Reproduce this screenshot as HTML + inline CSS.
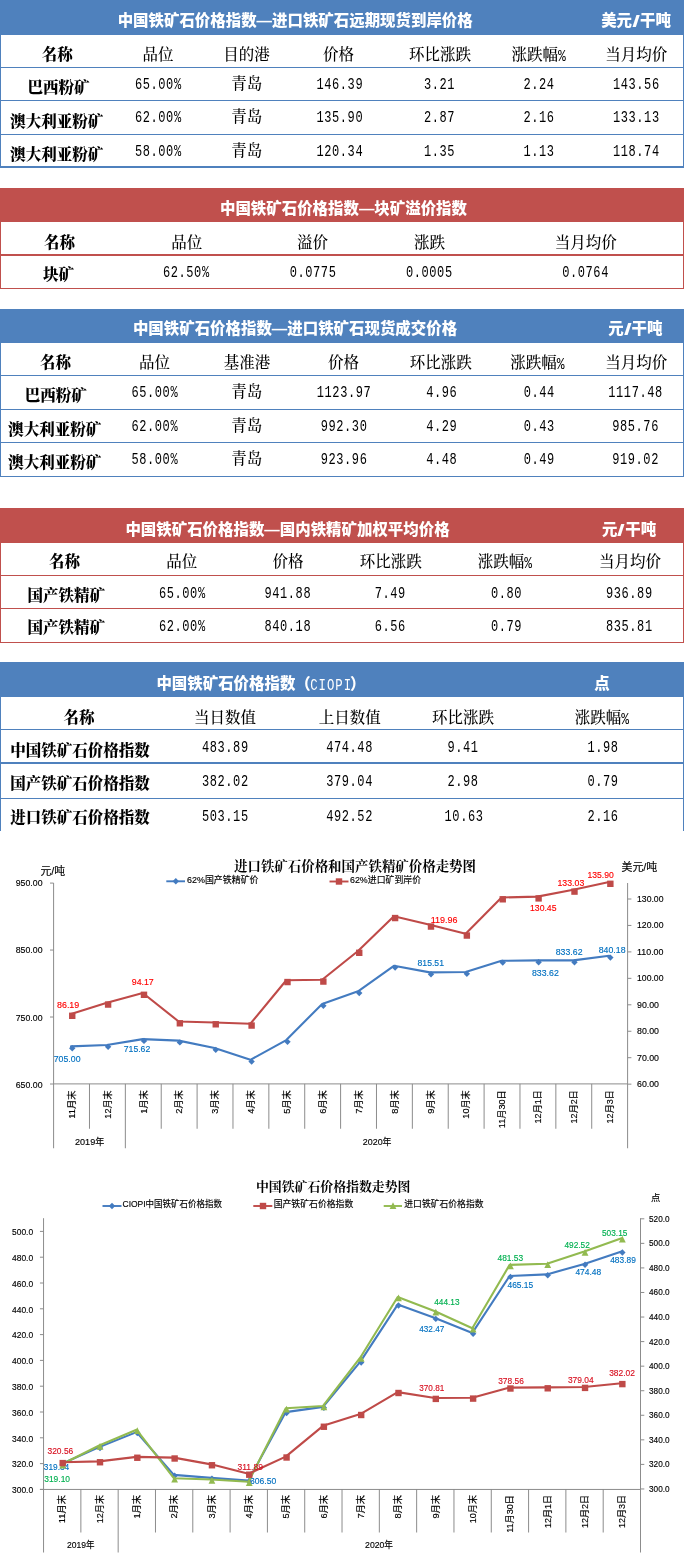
<!DOCTYPE html>
<html lang="zh-CN"><head><meta charset="utf-8"><title>中国铁矿石价格指数</title>
<style>
html,body{margin:0;padding:0;background:#fff}
body{width:684px;height:1564px;position:relative;overflow:hidden;font-family:"Liberation Serif","Noto Serif CJK SC",serif;color:#000}
.b{position:absolute;left:0;width:684px}
.l{position:absolute;left:0;width:684px}
.v{position:absolute}
.t{position:absolute;white-space:nowrap;line-height:20px;font-size:15.5px;transform:translateX(-50%)}
.h{font-family:"Liberation Sans","Noto Sans CJK SC",sans-serif;font-weight:900;color:#fff;font-size:15.45px;margin-top:-0.8px}
.h i{display:inline-block;font-style:normal;padding:0 1.8px;transform:scale(1.8,1.1)}
.k{font-family:"Liberation Serif","Noto Serif CJK SC",serif;font-weight:500}
.n{font-family:"Liberation Serif","Noto Serif CJK SC",serif;font-weight:900}
.d{font-family:"Liberation Mono",monospace;font-size:12px;letter-spacing:0.6px;padding-left:0.6px;transform:translateX(-50%) scaleY(1.37)}
.k b{font-family:"Liberation Mono",monospace;font-size:13px;font-weight:normal;display:inline-block;transform:scaleY(1.3) translateY(-0.3px)}
.hd{font-family:"Liberation Mono",monospace;font-size:12.3px;font-weight:normal;display:inline-block;transform:scaleY(1.3);letter-spacing:1px;margin:0 -2.2px 0 -0.6px}
svg{position:absolute;left:0;top:0}
svg text{font-family:"Liberation Sans","Noto Sans CJK SC",sans-serif}
</style></head><body>

<div class="b" style="top:0px;height:35.00px;background:#4f81bd"></div>
<div class="v" style="left:0.00px;top:35.00px;width:1px;height:133.00px;background:#4f81bd"></div>
<div class="v" style="left:683.00px;top:35.00px;width:1px;height:133.00px;background:#4f81bd"></div>
<div class="l" style="top:67px;height:1px;background:#4f81bd"></div>
<div class="l" style="top:100px;height:1px;background:#4f81bd"></div>
<div class="l" style="top:134px;height:1px;background:#4f81bd"></div>
<div class="l" style="top:166px;height:2px;background:#4f81bd"></div>
<span class="t h" style="left:295.20px;top:11.80px">中国铁矿石价格指数—进口铁矿石远期现货到岸价格</span>
<span class="t h" style="left:636.00px;top:11.80px">美元<i>/</i>干吨</span>
<span class="t n" style="left:57.25px;top:44.70px">名称</span>
<span class="t k" style="left:158.00px;top:44.70px">品位</span>
<span class="t k" style="left:246.50px;top:44.70px">目的港</span>
<span class="t k" style="left:338.50px;top:44.70px">价格</span>
<span class="t k" style="left:440.00px;top:44.70px">环比涨跌</span>
<span class="t k" style="left:538.75px;top:44.70px">涨跌幅<b>%</b></span>
<span class="t k" style="left:636.25px;top:44.70px">当月均价</span>
<span class="t n" style="left:58.40px;top:78.25px">巴西粉矿</span>
<span class="t d" style="left:158.00px;top:75.05px">65.00%</span>
<span class="t k" style="left:246.75px;top:74.05px">青岛</span>
<span class="t d" style="left:339.50px;top:75.05px">146.39</span>
<span class="t d" style="left:439.25px;top:75.05px">3.21</span>
<span class="t d" style="left:538.75px;top:75.05px">2.24</span>
<span class="t d" style="left:636.00px;top:75.05px">143.56</span>
<span class="t n" style="left:56.70px;top:111.65px">澳大利亚粉矿</span>
<span class="t d" style="left:158.00px;top:108.40px">62.00%</span>
<span class="t k" style="left:246.75px;top:107.40px">青岛</span>
<span class="t d" style="left:339.50px;top:108.40px">135.90</span>
<span class="t d" style="left:439.25px;top:108.40px">2.87</span>
<span class="t d" style="left:538.75px;top:108.40px">2.16</span>
<span class="t d" style="left:636.00px;top:108.40px">133.13</span>
<span class="t n" style="left:56.70px;top:144.60px">澳大利亚粉矿</span>
<span class="t d" style="left:158.00px;top:142.25px">58.00%</span>
<span class="t k" style="left:246.75px;top:141.25px">青岛</span>
<span class="t d" style="left:339.50px;top:142.25px">120.34</span>
<span class="t d" style="left:439.25px;top:142.25px">1.35</span>
<span class="t d" style="left:538.75px;top:142.25px">1.13</span>
<span class="t d" style="left:636.00px;top:142.25px">118.74</span>
<div class="b" style="top:188px;height:34.00px;background:#c0504d"></div>
<div class="v" style="left:0.00px;top:222.00px;width:1px;height:67.00px;background:#c0504d"></div>
<div class="v" style="left:683.00px;top:222.00px;width:1px;height:67.00px;background:#c0504d"></div>
<div class="l" style="top:254px;height:2px;background:#c0504d"></div>
<div class="l" style="top:288px;height:1px;background:#c0504d"></div>
<span class="t h" style="left:343.50px;top:199.55px">中国铁矿石价格指数—块矿溢价指数</span>
<span class="t n" style="left:59.50px;top:233.00px">名称</span>
<span class="t k" style="left:186.75px;top:233.00px">品位</span>
<span class="t k" style="left:312.50px;top:233.00px">溢价</span>
<span class="t k" style="left:429.50px;top:233.00px">涨跌</span>
<span class="t k" style="left:585.75px;top:233.00px">当月均价</span>
<span class="t n" style="left:58.50px;top:264.60px">块矿</span>
<span class="t d" style="left:186.00px;top:263.40px">62.50%</span>
<span class="t d" style="left:312.75px;top:263.40px">0.0775</span>
<span class="t d" style="left:429.00px;top:263.40px">0.0005</span>
<span class="t d" style="left:585.25px;top:263.40px">0.0764</span>
<div class="b" style="top:309px;height:34.00px;background:#4f81bd"></div>
<div class="v" style="left:0.00px;top:343.00px;width:1px;height:134.00px;background:#4f81bd"></div>
<div class="v" style="left:683.00px;top:343.00px;width:1px;height:134.00px;background:#4f81bd"></div>
<div class="l" style="top:375px;height:1px;background:#4f81bd"></div>
<div class="l" style="top:409px;height:1px;background:#4f81bd"></div>
<div class="l" style="top:442px;height:1px;background:#4f81bd"></div>
<div class="l" style="top:476px;height:1px;background:#4f81bd"></div>
<span class="t h" style="left:295.00px;top:319.30px">中国铁矿石价格指数—进口铁矿石现货成交价格</span>
<span class="t h" style="left:635.25px;top:319.30px">元<i>/</i>干吨</span>
<span class="t n" style="left:55.50px;top:353.40px">名称</span>
<span class="t k" style="left:154.50px;top:353.40px">品位</span>
<span class="t k" style="left:247.00px;top:353.40px">基准港</span>
<span class="t k" style="left:343.50px;top:353.40px">价格</span>
<span class="t k" style="left:440.75px;top:353.40px">环比涨跌</span>
<span class="t k" style="left:537.50px;top:353.40px">涨跌幅<b>%</b></span>
<span class="t k" style="left:636.25px;top:353.40px">当月均价</span>
<span class="t n" style="left:55.85px;top:386.00px">巴西粉矿</span>
<span class="t d" style="left:154.50px;top:383.00px">65.00%</span>
<span class="t k" style="left:246.75px;top:382.00px">青岛</span>
<span class="t d" style="left:343.75px;top:383.00px">1123.97</span>
<span class="t d" style="left:441.50px;top:383.00px">4.96</span>
<span class="t d" style="left:539.00px;top:383.00px">0.44</span>
<span class="t d" style="left:635.25px;top:383.00px">1117.48</span>
<span class="t n" style="left:54.85px;top:419.80px">澳大利亚粉矿</span>
<span class="t d" style="left:154.50px;top:417.25px">62.00%</span>
<span class="t k" style="left:246.75px;top:416.25px">青岛</span>
<span class="t d" style="left:343.75px;top:417.25px">992.30</span>
<span class="t d" style="left:441.50px;top:417.25px">4.29</span>
<span class="t d" style="left:539.00px;top:417.25px">0.43</span>
<span class="t d" style="left:635.25px;top:417.25px">985.76</span>
<span class="t n" style="left:54.85px;top:452.65px">澳大利亚粉矿</span>
<span class="t d" style="left:154.50px;top:450.30px">58.00%</span>
<span class="t k" style="left:246.75px;top:449.30px">青岛</span>
<span class="t d" style="left:343.75px;top:450.30px">923.96</span>
<span class="t d" style="left:441.50px;top:450.30px">4.48</span>
<span class="t d" style="left:539.00px;top:450.30px">0.49</span>
<span class="t d" style="left:635.25px;top:450.30px">919.02</span>
<div class="b" style="top:508px;height:35.00px;background:#c0504d"></div>
<div class="v" style="left:0.00px;top:543.00px;width:1px;height:100.00px;background:#c0504d"></div>
<div class="v" style="left:683.00px;top:543.00px;width:1px;height:100.00px;background:#c0504d"></div>
<div class="l" style="top:575px;height:1px;background:#c0504d"></div>
<div class="l" style="top:608px;height:1px;background:#c0504d"></div>
<div class="l" style="top:642px;height:1px;background:#c0504d"></div>
<span class="t h" style="left:287.50px;top:520.80px">中国铁矿石价格指数—国内铁精矿加权平均价格</span>
<span class="t h" style="left:629.00px;top:520.80px">元<i>/</i>干吨</span>
<span class="t n" style="left:64.50px;top:552.30px">名称</span>
<span class="t k" style="left:181.75px;top:552.30px">品位</span>
<span class="t k" style="left:288.00px;top:552.30px">价格</span>
<span class="t k" style="left:390.75px;top:552.30px">环比涨跌</span>
<span class="t k" style="left:505.00px;top:552.30px">涨跌幅<b>%</b></span>
<span class="t k" style="left:630.00px;top:552.30px">当月均价</span>
<span class="t n" style="left:66.25px;top:585.80px">国产铁精矿</span>
<span class="t d" style="left:182.00px;top:584.05px">65.00%</span>
<span class="t d" style="left:287.50px;top:584.05px">941.88</span>
<span class="t d" style="left:390.00px;top:584.05px">7.49</span>
<span class="t d" style="left:506.25px;top:584.05px">0.80</span>
<span class="t d" style="left:629.00px;top:584.05px">936.89</span>
<span class="t n" style="left:66.25px;top:618.40px">国产铁精矿</span>
<span class="t d" style="left:182.00px;top:617.10px">62.00%</span>
<span class="t d" style="left:287.50px;top:617.10px">840.18</span>
<span class="t d" style="left:390.00px;top:617.10px">6.56</span>
<span class="t d" style="left:506.25px;top:617.10px">0.79</span>
<span class="t d" style="left:629.00px;top:617.10px">835.81</span>
<div class="b" style="top:662px;height:35.00px;background:#4f81bd"></div>
<div class="v" style="left:0.00px;top:697.00px;width:1px;height:134.00px;background:#4f81bd"></div>
<div class="v" style="left:683.00px;top:697.00px;width:1px;height:134.00px;background:#4f81bd"></div>
<div class="l" style="top:729px;height:1px;background:#4f81bd"></div>
<div class="l" style="top:762px;height:2px;background:#4f81bd"></div>
<div class="l" style="top:798px;height:1px;background:#4f81bd"></div>
<span class="t h" style="left:260.90px;top:674.30px">中国铁矿石价格指数（<span class="hd">CIOPI</span>）</span>
<span class="t h" style="left:602.00px;top:674.30px">点</span>
<span class="t n" style="left:79.00px;top:707.80px">名称</span>
<span class="t k" style="left:225.00px;top:707.80px">当日数值</span>
<span class="t k" style="left:349.75px;top:707.80px">上日数值</span>
<span class="t k" style="left:463.00px;top:707.80px">环比涨跌</span>
<span class="t k" style="left:602.00px;top:707.80px">涨跌幅<b>%</b></span>
<span class="t n" style="left:80.00px;top:740.80px">中国铁矿石价格指数</span>
<span class="t d" style="left:225.00px;top:738.05px">483.89</span>
<span class="t d" style="left:349.25px;top:738.05px">474.48</span>
<span class="t d" style="left:462.75px;top:738.05px">9.41</span>
<span class="t d" style="left:602.75px;top:738.05px">1.98</span>
<span class="t n" style="left:80.00px;top:774.30px">国产铁矿石价格指数</span>
<span class="t d" style="left:225.00px;top:772.00px">382.02</span>
<span class="t d" style="left:349.25px;top:772.00px">379.04</span>
<span class="t d" style="left:462.75px;top:772.00px">2.98</span>
<span class="t d" style="left:602.75px;top:772.00px">0.79</span>
<span class="t n" style="left:80.00px;top:807.80px">进口铁矿石价格指数</span>
<span class="t d" style="left:225.00px;top:806.80px">503.15</span>
<span class="t d" style="left:349.25px;top:806.80px">492.52</span>
<span class="t d" style="left:463.75px;top:806.80px">10.63</span>
<span class="t d" style="left:602.75px;top:806.80px">2.16</span>
<svg width="684" height="1564" viewBox="0 0 684 1564">
<rect x="0" y="831" width="684" height="733" fill="#fff"/>
<line x1="53.60" y1="883.00" x2="53.60" y2="1148.25" stroke="#8c8c8c" stroke-width="1.0"/>
<line x1="53.60" y1="1083.90" x2="627.60" y2="1083.90" stroke="#8c8c8c" stroke-width="1.0"/>
<line x1="627.60" y1="883.00" x2="627.60" y2="1148.25" stroke="#8c8c8c" stroke-width="1.0"/>
<line x1="50.00" y1="883.09" x2="53.60" y2="883.09" stroke="#8c8c8c" stroke-width="1.0"/>
<line x1="50.00" y1="950.06" x2="53.60" y2="950.06" stroke="#8c8c8c" stroke-width="1.0"/>
<line x1="50.00" y1="1017.03" x2="53.60" y2="1017.03" stroke="#8c8c8c" stroke-width="1.0"/>
<line x1="50.00" y1="1084.00" x2="53.60" y2="1084.00" stroke="#8c8c8c" stroke-width="1.0"/>
<line x1="627.60" y1="899.00" x2="631.40" y2="899.00" stroke="#8c8c8c" stroke-width="1.0"/>
<line x1="627.60" y1="925.45" x2="631.40" y2="925.45" stroke="#8c8c8c" stroke-width="1.0"/>
<line x1="627.60" y1="951.90" x2="631.40" y2="951.90" stroke="#8c8c8c" stroke-width="1.0"/>
<line x1="627.60" y1="978.35" x2="631.40" y2="978.35" stroke="#8c8c8c" stroke-width="1.0"/>
<line x1="627.60" y1="1004.80" x2="631.40" y2="1004.80" stroke="#8c8c8c" stroke-width="1.0"/>
<line x1="627.60" y1="1031.25" x2="631.40" y2="1031.25" stroke="#8c8c8c" stroke-width="1.0"/>
<line x1="627.60" y1="1057.70" x2="631.40" y2="1057.70" stroke="#8c8c8c" stroke-width="1.0"/>
<line x1="627.60" y1="1084.15" x2="631.40" y2="1084.15" stroke="#8c8c8c" stroke-width="1.0"/>
<line x1="89.47" y1="1083.90" x2="89.47" y2="1128.75" stroke="#8c8c8c" stroke-width="1.0"/>
<line x1="125.35" y1="1083.90" x2="125.35" y2="1148.25" stroke="#8c8c8c" stroke-width="1.0"/>
<line x1="161.22" y1="1083.90" x2="161.22" y2="1128.75" stroke="#8c8c8c" stroke-width="1.0"/>
<line x1="197.10" y1="1083.90" x2="197.10" y2="1128.75" stroke="#8c8c8c" stroke-width="1.0"/>
<line x1="232.97" y1="1083.90" x2="232.97" y2="1128.75" stroke="#8c8c8c" stroke-width="1.0"/>
<line x1="268.85" y1="1083.90" x2="268.85" y2="1128.75" stroke="#8c8c8c" stroke-width="1.0"/>
<line x1="304.73" y1="1083.90" x2="304.73" y2="1128.75" stroke="#8c8c8c" stroke-width="1.0"/>
<line x1="340.60" y1="1083.90" x2="340.60" y2="1128.75" stroke="#8c8c8c" stroke-width="1.0"/>
<line x1="376.48" y1="1083.90" x2="376.48" y2="1128.75" stroke="#8c8c8c" stroke-width="1.0"/>
<line x1="412.35" y1="1083.90" x2="412.35" y2="1128.75" stroke="#8c8c8c" stroke-width="1.0"/>
<line x1="448.23" y1="1083.90" x2="448.23" y2="1128.75" stroke="#8c8c8c" stroke-width="1.0"/>
<line x1="484.10" y1="1083.90" x2="484.10" y2="1128.75" stroke="#8c8c8c" stroke-width="1.0"/>
<line x1="519.98" y1="1083.90" x2="519.98" y2="1128.75" stroke="#8c8c8c" stroke-width="1.0"/>
<line x1="555.85" y1="1083.90" x2="555.85" y2="1128.75" stroke="#8c8c8c" stroke-width="1.0"/>
<line x1="591.73" y1="1083.90" x2="591.73" y2="1128.75" stroke="#8c8c8c" stroke-width="1.0"/>
<polyline points="71.04,1046.40 106.91,1045.05 142.79,1039.10 178.66,1040.60 214.54,1048.05 250.41,1059.80 286.29,1040.05 322.16,1003.90 358.04,991.30 393.91,965.80 429.79,972.40 465.66,972.05 501.54,960.80 537.41,960.40 573.29,960.40 609.16,955.80" fill="none" stroke="#437bc0" stroke-width="2.1" stroke-linejoin="round" stroke-linecap="round"/>
<path d="M72.24 1045.00L75.44 1048.20L72.24 1051.40L69.04 1048.20Z" fill="#437bc0"/>
<path d="M108.11 1043.65L111.31 1046.85L108.11 1050.05L104.91 1046.85Z" fill="#437bc0"/>
<path d="M143.99 1037.70L147.19 1040.90L143.99 1044.10L140.79 1040.90Z" fill="#437bc0"/>
<path d="M179.86 1039.20L183.06 1042.40L179.86 1045.60L176.66 1042.40Z" fill="#437bc0"/>
<path d="M215.74 1046.65L218.94 1049.85L215.74 1053.05L212.54 1049.85Z" fill="#437bc0"/>
<path d="M251.61 1058.40L254.81 1061.60L251.61 1064.80L248.41 1061.60Z" fill="#437bc0"/>
<path d="M287.49 1038.65L290.69 1041.85L287.49 1045.05L284.29 1041.85Z" fill="#437bc0"/>
<path d="M323.36 1002.50L326.56 1005.70L323.36 1008.90L320.16 1005.70Z" fill="#437bc0"/>
<path d="M359.24 989.90L362.44 993.10L359.24 996.30L356.04 993.10Z" fill="#437bc0"/>
<path d="M395.11 964.40L398.31 967.60L395.11 970.80L391.91 967.60Z" fill="#437bc0"/>
<path d="M430.99 971.00L434.19 974.20L430.99 977.40L427.79 974.20Z" fill="#437bc0"/>
<path d="M466.86 970.65L470.06 973.85L466.86 977.05L463.66 973.85Z" fill="#437bc0"/>
<path d="M502.74 959.40L505.94 962.60L502.74 965.80L499.54 962.60Z" fill="#437bc0"/>
<path d="M538.61 959.00L541.81 962.20L538.61 965.40L535.41 962.20Z" fill="#437bc0"/>
<path d="M574.49 959.00L577.69 962.20L574.49 965.40L571.29 962.20Z" fill="#437bc0"/>
<path d="M610.36 954.40L613.56 957.60L610.36 960.80L607.16 957.60Z" fill="#437bc0"/>
<polyline points="71.04,1014.00 106.91,1002.75 142.79,993.00 178.66,1021.50 214.54,1022.50 250.41,1023.75 286.29,980.25 322.16,979.75 358.04,951.00 393.91,916.25 429.79,924.75 465.66,933.75 501.54,897.50 537.41,896.60 573.29,889.80 609.16,882.00" fill="none" stroke="#bf4a48" stroke-width="2.1" stroke-linejoin="round" stroke-linecap="round"/>
<rect x="69.04" y="1012.60" width="6.40" height="6.40" fill="#bf4a48"/>
<rect x="104.91" y="1001.35" width="6.40" height="6.40" fill="#bf4a48"/>
<rect x="140.79" y="991.60" width="6.40" height="6.40" fill="#bf4a48"/>
<rect x="176.66" y="1020.10" width="6.40" height="6.40" fill="#bf4a48"/>
<rect x="212.54" y="1021.10" width="6.40" height="6.40" fill="#bf4a48"/>
<rect x="248.41" y="1022.35" width="6.40" height="6.40" fill="#bf4a48"/>
<rect x="284.29" y="978.85" width="6.40" height="6.40" fill="#bf4a48"/>
<rect x="320.16" y="978.35" width="6.40" height="6.40" fill="#bf4a48"/>
<rect x="356.04" y="949.60" width="6.40" height="6.40" fill="#bf4a48"/>
<rect x="391.91" y="914.85" width="6.40" height="6.40" fill="#bf4a48"/>
<rect x="427.79" y="923.35" width="6.40" height="6.40" fill="#bf4a48"/>
<rect x="463.66" y="932.35" width="6.40" height="6.40" fill="#bf4a48"/>
<rect x="499.54" y="896.10" width="6.40" height="6.40" fill="#bf4a48"/>
<rect x="535.41" y="895.20" width="6.40" height="6.40" fill="#bf4a48"/>
<rect x="571.29" y="888.40" width="6.40" height="6.40" fill="#bf4a48"/>
<rect x="607.16" y="880.60" width="6.40" height="6.40" fill="#bf4a48"/>
<text x="15.75" y="886.00" font-size="9.5" fill="#000" stroke="#000" stroke-width="0.15" textLength="26.75" lengthAdjust="spacingAndGlyphs">950.00</text>
<text x="15.75" y="953.25" font-size="9.5" fill="#000" stroke="#000" stroke-width="0.15" textLength="26.75" lengthAdjust="spacingAndGlyphs">850.00</text>
<text x="15.75" y="1020.50" font-size="9.5" fill="#000" stroke="#000" stroke-width="0.15" textLength="26.75" lengthAdjust="spacingAndGlyphs">750.00</text>
<text x="15.75" y="1087.75" font-size="9.5" fill="#000" stroke="#000" stroke-width="0.15" textLength="26.75" lengthAdjust="spacingAndGlyphs">650.00</text>
<text x="637.00" y="902.00" font-size="9.5" fill="#000" stroke="#000" stroke-width="0.15" textLength="26.50" lengthAdjust="spacingAndGlyphs">130.00</text>
<text x="637.00" y="928.45" font-size="9.5" fill="#000" stroke="#000" stroke-width="0.15" textLength="26.50" lengthAdjust="spacingAndGlyphs">120.00</text>
<text x="637.00" y="954.90" font-size="9.5" fill="#000" stroke="#000" stroke-width="0.15" textLength="26.50" lengthAdjust="spacingAndGlyphs">110.00</text>
<text x="637.00" y="981.35" font-size="9.5" fill="#000" stroke="#000" stroke-width="0.15" textLength="26.50" lengthAdjust="spacingAndGlyphs">100.00</text>
<text x="637.00" y="1007.80" font-size="9.5" fill="#000" stroke="#000" stroke-width="0.15" textLength="22.00" lengthAdjust="spacingAndGlyphs">90.00</text>
<text x="637.00" y="1034.25" font-size="9.5" fill="#000" stroke="#000" stroke-width="0.15" textLength="22.00" lengthAdjust="spacingAndGlyphs">80.00</text>
<text x="637.00" y="1060.70" font-size="9.5" fill="#000" stroke="#000" stroke-width="0.15" textLength="22.00" lengthAdjust="spacingAndGlyphs">70.00</text>
<text x="637.00" y="1087.15" font-size="9.5" fill="#000" stroke="#000" stroke-width="0.15" textLength="22.00" lengthAdjust="spacingAndGlyphs">60.00</text>
<text x="40.50" y="874.54" font-size="11" fill="#000" stroke="#000" stroke-width="0.15" textLength="24.70" lengthAdjust="spacingAndGlyphs">元/吨</text>
<text x="621.50" y="870.74" font-size="11" fill="#000" stroke="#000" stroke-width="0.15" textLength="35.80" lengthAdjust="spacingAndGlyphs">美元/吨</text>
<text x="234.00" y="871.10" font-size="13.4" fill="#000" textLength="242.00" lengthAdjust="spacingAndGlyphs" font-weight="bold" style="font-family:'Liberation Serif','Noto Serif CJK SC',serif">进口铁矿石价格和国产铁精矿价格走势图</text>
<line x1="166.30" y1="881.30" x2="185.00" y2="881.30" stroke="#437bc0" stroke-width="1.9"/>
<path d="M175.80 878.10L179.00 881.30L175.80 884.50L172.60 881.30Z" fill="#437bc0"/>
<text x="187.00" y="882.93" font-size="9.3" fill="#000" stroke="#000" stroke-width="0.15" textLength="71.50" lengthAdjust="spacingAndGlyphs">62%国产铁精矿价</text>
<line x1="329.50" y1="881.50" x2="348.50" y2="881.50" stroke="#bf4a48" stroke-width="1.9"/>
<rect x="335.80" y="878.30" width="6.40" height="6.40" fill="#bf4a48"/>
<text x="350.00" y="882.93" font-size="9.3" fill="#000" stroke="#000" stroke-width="0.15" textLength="71.00" lengthAdjust="spacingAndGlyphs">62%进口矿到岸价</text>
<text x="587.50" y="877.70" font-size="9.5" fill="#ff0000" stroke="#ff0000" stroke-width="0.15" textLength="26.25" lengthAdjust="spacingAndGlyphs">135.90</text>
<text x="557.50" y="885.95" font-size="9.5" fill="#ff0000" stroke="#ff0000" stroke-width="0.15" textLength="26.75" lengthAdjust="spacingAndGlyphs">133.03</text>
<text x="530.00" y="911.10" font-size="9.5" fill="#ff0000" stroke="#ff0000" stroke-width="0.15" textLength="26.50" lengthAdjust="spacingAndGlyphs">130.45</text>
<text x="430.75" y="922.95" font-size="9.5" fill="#ff0000" stroke="#ff0000" stroke-width="0.15" textLength="26.75" lengthAdjust="spacingAndGlyphs">119.96</text>
<text x="131.75" y="984.70" font-size="9.5" fill="#ff0000" stroke="#ff0000" stroke-width="0.15" textLength="22.00" lengthAdjust="spacingAndGlyphs">94.17</text>
<text x="57.00" y="1007.70" font-size="9.5" fill="#ff0000" stroke="#ff0000" stroke-width="0.15" textLength="22.25" lengthAdjust="spacingAndGlyphs">86.19</text>
<text x="555.75" y="954.70" font-size="9.5" fill="#0070c0" stroke="#0070c0" stroke-width="0.15" textLength="26.75" lengthAdjust="spacingAndGlyphs">833.62</text>
<text x="598.75" y="952.70" font-size="9.5" fill="#0070c0" stroke="#0070c0" stroke-width="0.15" textLength="26.75" lengthAdjust="spacingAndGlyphs">840.18</text>
<text x="532.00" y="975.70" font-size="9.5" fill="#0070c0" stroke="#0070c0" stroke-width="0.15" textLength="26.75" lengthAdjust="spacingAndGlyphs">833.62</text>
<text x="417.50" y="966.45" font-size="9.5" fill="#0070c0" stroke="#0070c0" stroke-width="0.15" textLength="26.50" lengthAdjust="spacingAndGlyphs">815.51</text>
<text x="123.75" y="1051.95" font-size="9.5" fill="#0070c0" stroke="#0070c0" stroke-width="0.15" textLength="26.50" lengthAdjust="spacingAndGlyphs">715.62</text>
<text x="53.75" y="1061.95" font-size="9.5" fill="#0070c0" stroke="#0070c0" stroke-width="0.15" textLength="26.75" lengthAdjust="spacingAndGlyphs">705.00</text>
<text transform="translate(74.82,1118.63) rotate(-90)" font-size="9.4" fill="#000" stroke="#000" stroke-width="0.15" textLength="28.33" lengthAdjust="spacingAndGlyphs">11月末</text>
<text transform="translate(110.70,1118.63) rotate(-90)" font-size="9.4" fill="#000" stroke="#000" stroke-width="0.15" textLength="28.33" lengthAdjust="spacingAndGlyphs">12月末</text>
<text transform="translate(146.57,1113.87) rotate(-90)" font-size="9.4" fill="#000" stroke="#000" stroke-width="0.15" textLength="23.57" lengthAdjust="spacingAndGlyphs">1月末</text>
<text transform="translate(182.45,1113.87) rotate(-90)" font-size="9.4" fill="#000" stroke="#000" stroke-width="0.15" textLength="23.57" lengthAdjust="spacingAndGlyphs">2月末</text>
<text transform="translate(218.32,1113.87) rotate(-90)" font-size="9.4" fill="#000" stroke="#000" stroke-width="0.15" textLength="23.57" lengthAdjust="spacingAndGlyphs">3月末</text>
<text transform="translate(254.20,1113.87) rotate(-90)" font-size="9.4" fill="#000" stroke="#000" stroke-width="0.15" textLength="23.57" lengthAdjust="spacingAndGlyphs">4月末</text>
<text transform="translate(290.07,1113.87) rotate(-90)" font-size="9.4" fill="#000" stroke="#000" stroke-width="0.15" textLength="23.57" lengthAdjust="spacingAndGlyphs">5月末</text>
<text transform="translate(325.95,1113.87) rotate(-90)" font-size="9.4" fill="#000" stroke="#000" stroke-width="0.15" textLength="23.57" lengthAdjust="spacingAndGlyphs">6月末</text>
<text transform="translate(361.82,1113.87) rotate(-90)" font-size="9.4" fill="#000" stroke="#000" stroke-width="0.15" textLength="23.57" lengthAdjust="spacingAndGlyphs">7月末</text>
<text transform="translate(397.70,1113.87) rotate(-90)" font-size="9.4" fill="#000" stroke="#000" stroke-width="0.15" textLength="23.57" lengthAdjust="spacingAndGlyphs">8月末</text>
<text transform="translate(433.57,1113.87) rotate(-90)" font-size="9.4" fill="#000" stroke="#000" stroke-width="0.15" textLength="23.57" lengthAdjust="spacingAndGlyphs">9月末</text>
<text transform="translate(469.45,1118.63) rotate(-90)" font-size="9.4" fill="#000" stroke="#000" stroke-width="0.15" textLength="28.33" lengthAdjust="spacingAndGlyphs">10月末</text>
<text transform="translate(505.32,1128.16) rotate(-90)" font-size="9.4" fill="#000" stroke="#000" stroke-width="0.15" textLength="37.86" lengthAdjust="spacingAndGlyphs">11月30日</text>
<text transform="translate(541.20,1123.40) rotate(-90)" font-size="9.4" fill="#000" stroke="#000" stroke-width="0.15" textLength="33.10" lengthAdjust="spacingAndGlyphs">12月1日</text>
<text transform="translate(577.07,1123.40) rotate(-90)" font-size="9.4" fill="#000" stroke="#000" stroke-width="0.15" textLength="33.10" lengthAdjust="spacingAndGlyphs">12月2日</text>
<text transform="translate(612.95,1123.40) rotate(-90)" font-size="9.4" fill="#000" stroke="#000" stroke-width="0.15" textLength="33.10" lengthAdjust="spacingAndGlyphs">12月3日</text>
<text x="75.00" y="1144.53" font-size="9.3" fill="#000" stroke="#000" stroke-width="0.15" textLength="29.25" lengthAdjust="spacingAndGlyphs">2019年</text>
<text x="362.80" y="1144.53" font-size="9.3" fill="#000" stroke="#000" stroke-width="0.15" textLength="28.70" lengthAdjust="spacingAndGlyphs">2020年</text>
<line x1="43.55" y1="1218.20" x2="43.55" y2="1552.50" stroke="#8c8c8c" stroke-width="1.0"/>
<line x1="39.95" y1="1489.45" x2="640.51" y2="1489.45" stroke="#8c8c8c" stroke-width="1.0"/>
<line x1="640.51" y1="1218.20" x2="640.51" y2="1552.50" stroke="#8c8c8c" stroke-width="1.0"/>
<line x1="39.95" y1="1231.40" x2="43.55" y2="1231.40" stroke="#8c8c8c" stroke-width="1.0"/>
<line x1="39.95" y1="1257.20" x2="43.55" y2="1257.20" stroke="#8c8c8c" stroke-width="1.0"/>
<line x1="39.95" y1="1283.00" x2="43.55" y2="1283.00" stroke="#8c8c8c" stroke-width="1.0"/>
<line x1="39.95" y1="1308.80" x2="43.55" y2="1308.80" stroke="#8c8c8c" stroke-width="1.0"/>
<line x1="39.95" y1="1334.60" x2="43.55" y2="1334.60" stroke="#8c8c8c" stroke-width="1.0"/>
<line x1="39.95" y1="1360.40" x2="43.55" y2="1360.40" stroke="#8c8c8c" stroke-width="1.0"/>
<line x1="39.95" y1="1386.20" x2="43.55" y2="1386.20" stroke="#8c8c8c" stroke-width="1.0"/>
<line x1="39.95" y1="1412.00" x2="43.55" y2="1412.00" stroke="#8c8c8c" stroke-width="1.0"/>
<line x1="39.95" y1="1437.80" x2="43.55" y2="1437.80" stroke="#8c8c8c" stroke-width="1.0"/>
<line x1="39.95" y1="1463.60" x2="43.55" y2="1463.60" stroke="#8c8c8c" stroke-width="1.0"/>
<line x1="39.95" y1="1489.40" x2="43.55" y2="1489.40" stroke="#8c8c8c" stroke-width="1.0"/>
<line x1="640.51" y1="1218.80" x2="644.31" y2="1218.80" stroke="#8c8c8c" stroke-width="1.0"/>
<line x1="640.51" y1="1243.36" x2="644.31" y2="1243.36" stroke="#8c8c8c" stroke-width="1.0"/>
<line x1="640.51" y1="1267.92" x2="644.31" y2="1267.92" stroke="#8c8c8c" stroke-width="1.0"/>
<line x1="640.51" y1="1292.48" x2="644.31" y2="1292.48" stroke="#8c8c8c" stroke-width="1.0"/>
<line x1="640.51" y1="1317.04" x2="644.31" y2="1317.04" stroke="#8c8c8c" stroke-width="1.0"/>
<line x1="640.51" y1="1341.60" x2="644.31" y2="1341.60" stroke="#8c8c8c" stroke-width="1.0"/>
<line x1="640.51" y1="1366.16" x2="644.31" y2="1366.16" stroke="#8c8c8c" stroke-width="1.0"/>
<line x1="640.51" y1="1390.72" x2="644.31" y2="1390.72" stroke="#8c8c8c" stroke-width="1.0"/>
<line x1="640.51" y1="1415.28" x2="644.31" y2="1415.28" stroke="#8c8c8c" stroke-width="1.0"/>
<line x1="640.51" y1="1439.84" x2="644.31" y2="1439.84" stroke="#8c8c8c" stroke-width="1.0"/>
<line x1="640.51" y1="1464.40" x2="644.31" y2="1464.40" stroke="#8c8c8c" stroke-width="1.0"/>
<line x1="640.51" y1="1488.96" x2="644.31" y2="1488.96" stroke="#8c8c8c" stroke-width="1.0"/>
<line x1="80.86" y1="1489.00" x2="80.86" y2="1532.50" stroke="#8c8c8c" stroke-width="1.0"/>
<line x1="118.17" y1="1489.00" x2="118.17" y2="1552.50" stroke="#8c8c8c" stroke-width="1.0"/>
<line x1="155.48" y1="1489.00" x2="155.48" y2="1532.50" stroke="#8c8c8c" stroke-width="1.0"/>
<line x1="192.79" y1="1489.00" x2="192.79" y2="1532.50" stroke="#8c8c8c" stroke-width="1.0"/>
<line x1="230.10" y1="1489.00" x2="230.10" y2="1532.50" stroke="#8c8c8c" stroke-width="1.0"/>
<line x1="267.41" y1="1489.00" x2="267.41" y2="1532.50" stroke="#8c8c8c" stroke-width="1.0"/>
<line x1="304.72" y1="1489.00" x2="304.72" y2="1532.50" stroke="#8c8c8c" stroke-width="1.0"/>
<line x1="342.03" y1="1489.00" x2="342.03" y2="1532.50" stroke="#8c8c8c" stroke-width="1.0"/>
<line x1="379.34" y1="1489.00" x2="379.34" y2="1532.50" stroke="#8c8c8c" stroke-width="1.0"/>
<line x1="416.65" y1="1489.00" x2="416.65" y2="1532.50" stroke="#8c8c8c" stroke-width="1.0"/>
<line x1="453.96" y1="1489.00" x2="453.96" y2="1532.50" stroke="#8c8c8c" stroke-width="1.0"/>
<line x1="491.27" y1="1489.00" x2="491.27" y2="1532.50" stroke="#8c8c8c" stroke-width="1.0"/>
<line x1="528.58" y1="1489.00" x2="528.58" y2="1532.50" stroke="#8c8c8c" stroke-width="1.0"/>
<line x1="565.89" y1="1489.00" x2="565.89" y2="1532.50" stroke="#8c8c8c" stroke-width="1.0"/>
<line x1="603.20" y1="1489.00" x2="603.20" y2="1532.50" stroke="#8c8c8c" stroke-width="1.0"/>
<polyline points="61.91,1463.70 99.22,1447.10 136.52,1432.10 173.83,1474.90 211.14,1477.85 248.45,1480.60 285.76,1412.10 323.08,1406.85 360.38,1361.60 397.70,1304.60 435.00,1318.00 472.32,1332.90 509.62,1276.00 546.94,1274.40 584.25,1263.90 621.56,1251.60" fill="none" stroke="#437bc0" stroke-width="2.1" stroke-linejoin="round" stroke-linecap="round"/>
<path d="M62.70 1461.40L65.91 1464.60L62.70 1467.80L59.50 1464.60Z" fill="#437bc0"/>
<path d="M100.02 1444.80L103.22 1448.00L100.02 1451.20L96.81 1448.00Z" fill="#437bc0"/>
<path d="M137.32 1429.80L140.52 1433.00L137.32 1436.20L134.12 1433.00Z" fill="#437bc0"/>
<path d="M174.63 1472.60L177.83 1475.80L174.63 1479.00L171.44 1475.80Z" fill="#437bc0"/>
<path d="M211.94 1475.55L215.14 1478.75L211.94 1481.95L208.75 1478.75Z" fill="#437bc0"/>
<path d="M249.25 1478.30L252.45 1481.50L249.25 1484.70L246.06 1481.50Z" fill="#437bc0"/>
<path d="M286.56 1409.80L289.76 1413.00L286.56 1416.20L283.37 1413.00Z" fill="#437bc0"/>
<path d="M323.88 1404.55L327.08 1407.75L323.88 1410.95L320.68 1407.75Z" fill="#437bc0"/>
<path d="M361.19 1359.30L364.38 1362.50L361.19 1365.70L357.99 1362.50Z" fill="#437bc0"/>
<path d="M398.50 1302.30L401.70 1305.50L398.50 1308.70L395.30 1305.50Z" fill="#437bc0"/>
<path d="M435.81 1315.70L439.00 1318.90L435.81 1322.10L432.61 1318.90Z" fill="#437bc0"/>
<path d="M473.12 1330.60L476.32 1333.80L473.12 1337.00L469.92 1333.80Z" fill="#437bc0"/>
<path d="M510.43 1273.70L513.62 1276.90L510.43 1280.10L507.23 1276.90Z" fill="#437bc0"/>
<path d="M547.74 1272.10L550.94 1275.30L547.74 1278.50L544.53 1275.30Z" fill="#437bc0"/>
<path d="M585.04 1261.60L588.25 1264.80L585.04 1268.00L581.84 1264.80Z" fill="#437bc0"/>
<path d="M622.36 1249.30L625.56 1252.50L622.36 1255.70L619.15 1252.50Z" fill="#437bc0"/>
<text x="610.20" y="1262.70" font-size="9.5" fill="#0070c0" stroke="#0070c0" stroke-width="0.15" textLength="25.60" lengthAdjust="spacingAndGlyphs">483.89</text>
<text x="575.40" y="1275.30" font-size="9.5" fill="#0070c0" stroke="#0070c0" stroke-width="0.15" textLength="25.70" lengthAdjust="spacingAndGlyphs">474.48</text>
<text x="507.50" y="1288.10" font-size="9.5" fill="#0070c0" stroke="#0070c0" stroke-width="0.15" textLength="25.70" lengthAdjust="spacingAndGlyphs">465.15</text>
<text x="419.25" y="1332.20" font-size="9.5" fill="#0070c0" stroke="#0070c0" stroke-width="0.15" textLength="25.00" lengthAdjust="spacingAndGlyphs">432.47</text>
<text x="250.00" y="1484.20" font-size="9.5" fill="#0070c0" stroke="#0070c0" stroke-width="0.15" textLength="26.25" lengthAdjust="spacingAndGlyphs">306.50</text>
<text x="43.75" y="1470.45" font-size="9.5" fill="#0070c0" stroke="#0070c0" stroke-width="0.15" textLength="25.50" lengthAdjust="spacingAndGlyphs">319.34</text>
<polyline points="61.91,1464.20 99.22,1445.45 136.52,1429.70 173.83,1478.20 211.14,1479.45 248.45,1481.70 285.76,1408.20 323.08,1405.95 360.38,1357.45 397.70,1296.95 435.00,1311.20 472.32,1328.20 509.62,1264.90 546.94,1263.70 584.25,1251.50 621.56,1238.30" fill="none" stroke="#92ba50" stroke-width="2.1" stroke-linejoin="round" stroke-linecap="round"/>
<path d="M62.70 1461.70L66.11 1468.50L59.30 1468.50Z" fill="#92ba50"/>
<path d="M100.02 1442.95L103.42 1449.75L96.61 1449.75Z" fill="#92ba50"/>
<path d="M137.32 1427.20L140.72 1434.00L133.92 1434.00Z" fill="#92ba50"/>
<path d="M174.63 1475.70L178.03 1482.50L171.23 1482.50Z" fill="#92ba50"/>
<path d="M211.94 1476.95L215.34 1483.75L208.54 1483.75Z" fill="#92ba50"/>
<path d="M249.25 1479.20L252.66 1486.00L245.85 1486.00Z" fill="#92ba50"/>
<path d="M286.56 1405.70L289.96 1412.50L283.17 1412.50Z" fill="#92ba50"/>
<path d="M323.88 1403.45L327.28 1410.25L320.48 1410.25Z" fill="#92ba50"/>
<path d="M361.19 1354.95L364.58 1361.75L357.79 1361.75Z" fill="#92ba50"/>
<path d="M398.50 1294.45L401.90 1301.25L395.10 1301.25Z" fill="#92ba50"/>
<path d="M435.81 1308.70L439.20 1315.50L432.41 1315.50Z" fill="#92ba50"/>
<path d="M473.12 1325.70L476.52 1332.50L469.72 1332.50Z" fill="#92ba50"/>
<path d="M510.43 1262.40L513.83 1269.20L507.03 1269.20Z" fill="#92ba50"/>
<path d="M547.74 1261.20L551.13 1268.00L544.34 1268.00Z" fill="#92ba50"/>
<path d="M585.04 1249.00L588.44 1255.80L581.64 1255.80Z" fill="#92ba50"/>
<path d="M622.36 1235.80L625.75 1242.60L618.96 1242.60Z" fill="#92ba50"/>
<text x="602.00" y="1235.50" font-size="9.5" fill="#00b050" stroke="#00b050" stroke-width="0.15" textLength="25.40" lengthAdjust="spacingAndGlyphs">503.15</text>
<text x="564.50" y="1247.70" font-size="9.5" fill="#00b050" stroke="#00b050" stroke-width="0.15" textLength="25.30" lengthAdjust="spacingAndGlyphs">492.52</text>
<text x="497.50" y="1260.60" font-size="9.5" fill="#00b050" stroke="#00b050" stroke-width="0.15" textLength="25.70" lengthAdjust="spacingAndGlyphs">481.53</text>
<text x="434.25" y="1305.45" font-size="9.5" fill="#00b050" stroke="#00b050" stroke-width="0.15" textLength="25.25" lengthAdjust="spacingAndGlyphs">444.13</text>
<text x="44.25" y="1481.70" font-size="9.5" fill="#00b050" stroke="#00b050" stroke-width="0.15" textLength="25.75" lengthAdjust="spacingAndGlyphs">319.10</text>
<polyline points="61.91,1462.20 99.22,1461.35 136.52,1456.85 173.83,1457.60 211.14,1464.35 248.45,1473.80 285.76,1456.60 323.08,1425.85 360.38,1414.10 397.70,1392.10 435.00,1398.00 472.32,1397.70 509.62,1387.60 546.94,1387.40 584.25,1387.00 621.56,1383.20" fill="none" stroke="#bf4a48" stroke-width="2.1" stroke-linejoin="round" stroke-linecap="round"/>
<rect x="59.50" y="1459.90" width="6.40" height="6.40" fill="#bf4a48"/>
<rect x="96.81" y="1459.05" width="6.40" height="6.40" fill="#bf4a48"/>
<rect x="134.12" y="1454.55" width="6.40" height="6.40" fill="#bf4a48"/>
<rect x="171.44" y="1455.30" width="6.40" height="6.40" fill="#bf4a48"/>
<rect x="208.75" y="1462.05" width="6.40" height="6.40" fill="#bf4a48"/>
<rect x="246.06" y="1471.50" width="6.40" height="6.40" fill="#bf4a48"/>
<rect x="283.37" y="1454.30" width="6.40" height="6.40" fill="#bf4a48"/>
<rect x="320.68" y="1423.55" width="6.40" height="6.40" fill="#bf4a48"/>
<rect x="357.99" y="1411.80" width="6.40" height="6.40" fill="#bf4a48"/>
<rect x="395.30" y="1389.80" width="6.40" height="6.40" fill="#bf4a48"/>
<rect x="432.61" y="1395.70" width="6.40" height="6.40" fill="#bf4a48"/>
<rect x="469.92" y="1395.40" width="6.40" height="6.40" fill="#bf4a48"/>
<rect x="507.23" y="1385.30" width="6.40" height="6.40" fill="#bf4a48"/>
<rect x="544.53" y="1385.10" width="6.40" height="6.40" fill="#bf4a48"/>
<rect x="581.84" y="1384.70" width="6.40" height="6.40" fill="#bf4a48"/>
<rect x="619.15" y="1380.90" width="6.40" height="6.40" fill="#bf4a48"/>
<text x="609.20" y="1375.70" font-size="9.5" fill="#d81020" stroke="#d81020" stroke-width="0.15" textLength="25.70" lengthAdjust="spacingAndGlyphs">382.02</text>
<text x="567.90" y="1382.90" font-size="9.5" fill="#d81020" stroke="#d81020" stroke-width="0.15" textLength="25.70" lengthAdjust="spacingAndGlyphs">379.04</text>
<text x="498.20" y="1383.90" font-size="9.5" fill="#d81020" stroke="#d81020" stroke-width="0.15" textLength="25.60" lengthAdjust="spacingAndGlyphs">378.56</text>
<text x="419.25" y="1390.95" font-size="9.5" fill="#d81020" stroke="#d81020" stroke-width="0.15" textLength="25.00" lengthAdjust="spacingAndGlyphs">370.81</text>
<text x="237.50" y="1470.45" font-size="9.5" fill="#d81020" stroke="#d81020" stroke-width="0.15" textLength="25.50" lengthAdjust="spacingAndGlyphs">311.89</text>
<text x="47.50" y="1453.70" font-size="9.5" fill="#d81020" stroke="#d81020" stroke-width="0.15" textLength="25.75" lengthAdjust="spacingAndGlyphs">320.56</text>
<text x="12.00" y="1235.20" font-size="9.5" fill="#000" stroke="#000" stroke-width="0.15" textLength="21.10" lengthAdjust="spacingAndGlyphs">500.0</text>
<text x="12.00" y="1261.00" font-size="9.5" fill="#000" stroke="#000" stroke-width="0.15" textLength="21.10" lengthAdjust="spacingAndGlyphs">480.0</text>
<text x="12.00" y="1286.80" font-size="9.5" fill="#000" stroke="#000" stroke-width="0.15" textLength="21.10" lengthAdjust="spacingAndGlyphs">460.0</text>
<text x="12.00" y="1312.60" font-size="9.5" fill="#000" stroke="#000" stroke-width="0.15" textLength="21.10" lengthAdjust="spacingAndGlyphs">440.0</text>
<text x="12.00" y="1338.40" font-size="9.5" fill="#000" stroke="#000" stroke-width="0.15" textLength="21.10" lengthAdjust="spacingAndGlyphs">420.0</text>
<text x="12.00" y="1364.20" font-size="9.5" fill="#000" stroke="#000" stroke-width="0.15" textLength="21.10" lengthAdjust="spacingAndGlyphs">400.0</text>
<text x="12.00" y="1390.00" font-size="9.5" fill="#000" stroke="#000" stroke-width="0.15" textLength="21.10" lengthAdjust="spacingAndGlyphs">380.0</text>
<text x="12.00" y="1415.80" font-size="9.5" fill="#000" stroke="#000" stroke-width="0.15" textLength="21.10" lengthAdjust="spacingAndGlyphs">360.0</text>
<text x="12.00" y="1441.60" font-size="9.5" fill="#000" stroke="#000" stroke-width="0.15" textLength="21.10" lengthAdjust="spacingAndGlyphs">340.0</text>
<text x="12.00" y="1467.40" font-size="9.5" fill="#000" stroke="#000" stroke-width="0.15" textLength="21.10" lengthAdjust="spacingAndGlyphs">320.0</text>
<text x="12.00" y="1493.20" font-size="9.5" fill="#000" stroke="#000" stroke-width="0.15" textLength="21.10" lengthAdjust="spacingAndGlyphs">300.0</text>
<text x="649.00" y="1221.80" font-size="9.5" fill="#000" stroke="#000" stroke-width="0.15" textLength="20.60" lengthAdjust="spacingAndGlyphs">520.0</text>
<text x="649.00" y="1246.36" font-size="9.5" fill="#000" stroke="#000" stroke-width="0.15" textLength="20.60" lengthAdjust="spacingAndGlyphs">500.0</text>
<text x="649.00" y="1270.92" font-size="9.5" fill="#000" stroke="#000" stroke-width="0.15" textLength="20.60" lengthAdjust="spacingAndGlyphs">480.0</text>
<text x="649.00" y="1295.48" font-size="9.5" fill="#000" stroke="#000" stroke-width="0.15" textLength="20.60" lengthAdjust="spacingAndGlyphs">460.0</text>
<text x="649.00" y="1320.04" font-size="9.5" fill="#000" stroke="#000" stroke-width="0.15" textLength="20.60" lengthAdjust="spacingAndGlyphs">440.0</text>
<text x="649.00" y="1344.60" font-size="9.5" fill="#000" stroke="#000" stroke-width="0.15" textLength="20.60" lengthAdjust="spacingAndGlyphs">420.0</text>
<text x="649.00" y="1369.16" font-size="9.5" fill="#000" stroke="#000" stroke-width="0.15" textLength="20.60" lengthAdjust="spacingAndGlyphs">400.0</text>
<text x="649.00" y="1393.72" font-size="9.5" fill="#000" stroke="#000" stroke-width="0.15" textLength="20.60" lengthAdjust="spacingAndGlyphs">380.0</text>
<text x="649.00" y="1418.28" font-size="9.5" fill="#000" stroke="#000" stroke-width="0.15" textLength="20.60" lengthAdjust="spacingAndGlyphs">360.0</text>
<text x="649.00" y="1442.84" font-size="9.5" fill="#000" stroke="#000" stroke-width="0.15" textLength="20.60" lengthAdjust="spacingAndGlyphs">340.0</text>
<text x="649.00" y="1467.40" font-size="9.5" fill="#000" stroke="#000" stroke-width="0.15" textLength="20.60" lengthAdjust="spacingAndGlyphs">320.0</text>
<text x="649.00" y="1491.96" font-size="9.5" fill="#000" stroke="#000" stroke-width="0.15" textLength="20.60" lengthAdjust="spacingAndGlyphs">300.0</text>
<text x="651.10" y="1201.33" font-size="9.3" fill="#000" stroke="#000" stroke-width="0.15">点</text>
<text x="256.00" y="1191.35" font-size="13" fill="#000" textLength="154.50" lengthAdjust="spacingAndGlyphs" font-weight="bold" style="font-family:'Liberation Serif','Noto Serif CJK SC',serif">中国铁矿石价格指数走势图</text>
<line x1="102.50" y1="1206.00" x2="121.50" y2="1206.00" stroke="#437bc0" stroke-width="1.9"/>
<path d="M112.00 1202.80L115.20 1206.00L112.00 1209.20L108.80 1206.00Z" fill="#437bc0"/>
<text x="122.50" y="1206.63" font-size="9.3" fill="#000" stroke="#000" stroke-width="0.15" textLength="99.50" lengthAdjust="spacingAndGlyphs">CIOPI中国铁矿石价格指数</text>
<line x1="253.30" y1="1206.00" x2="272.30" y2="1206.00" stroke="#bf4a48" stroke-width="1.9"/>
<rect x="259.80" y="1202.80" width="6.40" height="6.40" fill="#bf4a48"/>
<text x="273.70" y="1206.63" font-size="9.3" fill="#000" stroke="#000" stroke-width="0.15" textLength="79.60" lengthAdjust="spacingAndGlyphs">国产铁矿石价格指数</text>
<line x1="383.70" y1="1206.00" x2="402.00" y2="1206.00" stroke="#92ba50" stroke-width="1.9"/>
<path d="M393.00 1202.20L396.40 1209.00L389.60 1209.00Z" fill="#92ba50"/>
<text x="404.30" y="1206.63" font-size="9.3" fill="#000" stroke="#000" stroke-width="0.15" textLength="79.20" lengthAdjust="spacingAndGlyphs">进口铁矿石价格指数</text>
<text transform="translate(65.49,1523.33) rotate(-90)" font-size="9.4" fill="#000" stroke="#000" stroke-width="0.15" textLength="28.33" lengthAdjust="spacingAndGlyphs">11月末</text>
<text transform="translate(102.80,1523.33) rotate(-90)" font-size="9.4" fill="#000" stroke="#000" stroke-width="0.15" textLength="28.33" lengthAdjust="spacingAndGlyphs">12月末</text>
<text transform="translate(140.11,1518.57) rotate(-90)" font-size="9.4" fill="#000" stroke="#000" stroke-width="0.15" textLength="23.57" lengthAdjust="spacingAndGlyphs">1月末</text>
<text transform="translate(177.42,1518.57) rotate(-90)" font-size="9.4" fill="#000" stroke="#000" stroke-width="0.15" textLength="23.57" lengthAdjust="spacingAndGlyphs">2月末</text>
<text transform="translate(214.73,1518.57) rotate(-90)" font-size="9.4" fill="#000" stroke="#000" stroke-width="0.15" textLength="23.57" lengthAdjust="spacingAndGlyphs">3月末</text>
<text transform="translate(252.04,1518.57) rotate(-90)" font-size="9.4" fill="#000" stroke="#000" stroke-width="0.15" textLength="23.57" lengthAdjust="spacingAndGlyphs">4月末</text>
<text transform="translate(289.35,1518.57) rotate(-90)" font-size="9.4" fill="#000" stroke="#000" stroke-width="0.15" textLength="23.57" lengthAdjust="spacingAndGlyphs">5月末</text>
<text transform="translate(326.66,1518.57) rotate(-90)" font-size="9.4" fill="#000" stroke="#000" stroke-width="0.15" textLength="23.57" lengthAdjust="spacingAndGlyphs">6月末</text>
<text transform="translate(363.97,1518.57) rotate(-90)" font-size="9.4" fill="#000" stroke="#000" stroke-width="0.15" textLength="23.57" lengthAdjust="spacingAndGlyphs">7月末</text>
<text transform="translate(401.28,1518.57) rotate(-90)" font-size="9.4" fill="#000" stroke="#000" stroke-width="0.15" textLength="23.57" lengthAdjust="spacingAndGlyphs">8月末</text>
<text transform="translate(438.59,1518.57) rotate(-90)" font-size="9.4" fill="#000" stroke="#000" stroke-width="0.15" textLength="23.57" lengthAdjust="spacingAndGlyphs">9月末</text>
<text transform="translate(475.90,1523.33) rotate(-90)" font-size="9.4" fill="#000" stroke="#000" stroke-width="0.15" textLength="28.33" lengthAdjust="spacingAndGlyphs">10月末</text>
<text transform="translate(513.21,1532.86) rotate(-90)" font-size="9.4" fill="#000" stroke="#000" stroke-width="0.15" textLength="37.86" lengthAdjust="spacingAndGlyphs">11月30日</text>
<text transform="translate(550.52,1528.10) rotate(-90)" font-size="9.4" fill="#000" stroke="#000" stroke-width="0.15" textLength="33.10" lengthAdjust="spacingAndGlyphs">12月1日</text>
<text transform="translate(587.83,1528.10) rotate(-90)" font-size="9.4" fill="#000" stroke="#000" stroke-width="0.15" textLength="33.10" lengthAdjust="spacingAndGlyphs">12月2日</text>
<text transform="translate(625.14,1528.10) rotate(-90)" font-size="9.4" fill="#000" stroke="#000" stroke-width="0.15" textLength="33.10" lengthAdjust="spacingAndGlyphs">12月3日</text>
<text x="67.00" y="1547.53" font-size="9.3" fill="#000" stroke="#000" stroke-width="0.15" textLength="27.50" lengthAdjust="spacingAndGlyphs">2019年</text>
<text x="365.10" y="1547.53" font-size="9.3" fill="#000" stroke="#000" stroke-width="0.15" textLength="27.90" lengthAdjust="spacingAndGlyphs">2020年</text>
</svg>
</body></html>
